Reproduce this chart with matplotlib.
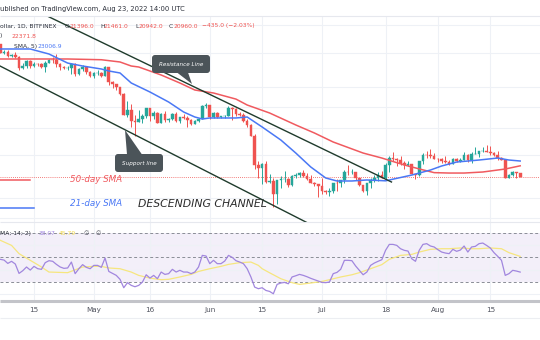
import numpy as np
import pandas as pd
import matplotlib
matplotlib.use("Agg")
import matplotlib.pyplot as plt
from matplotlib.patches import FancyBboxPatch, Polygon

# BTC/USD daily candles (Bitfinex), 6 Apr - 23 Aug 2022
dates = pd.date_range("2022-04-06", "2022-08-23", freq="D")

opens = [45500, 43200, 43450, 42300, 42780, 42200, 39520, 40100, 41150, 39950,
         40550, 40400, 39700, 40800, 41500, 41370, 40500, 39700, 39450, 39450,
         40430, 38100, 39230, 39740, 38600, 37650, 38480, 38520, 37720, 39690,
         36550, 36020, 35470, 34060, 30100, 31000, 29100, 28950, 29300, 29900,
         31300, 29850, 30430, 28700, 30300, 29200, 29430, 30300, 29100, 29650,
         29530, 29200, 28620, 29030, 29450, 31700, 31800, 29800, 30450, 29700,
         29870, 29900, 31370, 31130, 30200, 30100, 29100, 28400, 26600, 22500,
         22150, 22600, 20400, 20500, 19000, 20550, 20700, 20720, 19980, 21100,
         21230, 21500, 21030, 20730, 20280, 20100, 19940, 19280, 19250, 19300,
         20230, 20190, 20550, 21620, 21600, 21600, 20850, 19960, 19330, 20230,
         20580, 20830, 21200, 20800, 22430, 23400, 23230, 23160, 22680, 22450,
         22580, 21300, 21250, 22950, 23850, 23770, 23650, 23300, 23280, 22980,
         22820, 22620, 23310, 22950, 23170, 23800, 23150, 23950, 23950, 24400,
         24450, 24300, 24100, 23870, 23350, 23200, 20850, 21150, 21520, 21396]
highs = [45500, 43900, 43950, 42800, 43400, 42400, 40700, 41500, 41500, 40850,
         40700, 40600, 41100, 41700, 42200, 42900, 40800, 39950, 39900, 40600,
         40800, 39450, 40350, 39900, 38800, 38650, 39150, 38630, 40000, 39800,
         36650, 36100, 35500, 34250, 32600, 32100, 30100, 30900, 30300, 31400,
         31300, 30750, 30650, 30500, 30700, 29600, 30450, 30650, 29800, 30200,
         29850, 29350, 29200, 29550, 31950, 32250, 31950, 30600, 30650, 29950,
         30150, 31750, 31550, 31300, 30650, 30350, 29450, 28550, 26900, 23000,
         22800, 22950, 21350, 20800, 20550, 21050, 21700, 20850, 21200, 21500,
         21600, 21850, 21500, 21200, 20400, 20150, 20850, 19400, 19650, 20300,
         20700, 20650, 21850, 22500, 21900, 21600, 20870, 20050, 20250, 20850,
         21200, 21550, 21650, 22700, 23750, 24250, 23420, 23750, 22950, 23000,
         22650, 21350, 23050, 24150, 24400, 24650, 24150, 23450, 23450, 23650,
         23200, 23450, 23350, 23400, 24200, 23900, 24200, 24900, 24450, 24900,
         25200, 25050, 24250, 24450, 23600, 23200, 21350, 21700, 21520, 21461]
lows = [43100, 42800, 42150, 42150, 42000, 39200, 39250, 39600, 39600, 39800,
        40000, 39550, 38550, 40600, 40800, 39750, 39200, 39350, 39000, 38200,
        37700, 37900, 38900, 38200, 37600, 37400, 38050, 37500, 37650, 35800,
        35300, 34800, 33700, 30000, 29800, 28100, 26600, 28800, 28700, 29500,
        29100, 29450, 28700, 28700, 28800, 28950, 29250, 28900, 28700, 29300,
        28050, 28300, 28500, 28850, 29350, 31250, 29350, 29600, 29550, 29500,
        29500, 29900, 29250, 29900, 29950, 28900, 28100, 26600, 21950, 20850,
        20100, 20250, 20300, 17600, 17950, 19650, 20350, 19800, 19900, 20800,
        20950, 21000, 20550, 20200, 19900, 18650, 18950, 19000, 18800, 19050,
        19300, 19800, 20250, 21200, 21350, 20650, 19900, 19250, 18900, 19650,
        20400, 20500, 20800, 20750, 21600, 23000, 22400, 22450, 21950, 22300,
        21300, 20750, 21050, 22600, 23450, 23450, 23250, 22850, 22700, 22700,
        22450, 22600, 22900, 22850, 23150, 22900, 22700, 23900, 23600, 24300,
        24200, 23800, 23700, 23200, 23150, 20800, 20850, 21100, 20900, 20942]
closes = [43200, 43450, 42300, 42780, 42200, 39520, 40100, 41150, 39950, 40550,
          40400, 39700, 40800, 41500, 41370, 40500, 39700, 39450, 39450, 40430,
          38100, 39230, 39740, 38600, 37650, 38480, 38520, 37720, 39690, 36550,
          36020, 35470, 34060, 30100, 31000, 29100, 28950, 29300, 29900, 31300,
          29850, 30430, 28700, 30300, 29200, 29430, 30300, 29100, 29650, 29530,
          29200, 28620, 29030, 29450, 31700, 31800, 29800, 30450, 29700, 29870,
          29900, 31370, 31130, 30200, 30100, 29100, 28400, 26600, 22500, 22150,
          22600, 20400, 20500, 19000, 20550, 20700, 20720, 19980, 21100, 21230,
          21500, 21030, 20730, 20280, 20100, 19940, 19280, 19250, 19300, 20230,
          20190, 20550, 21620, 21600, 21600, 20850, 19960, 19330, 20230, 20580,
          20830, 21200, 20800, 22430, 23400, 23230, 23160, 22680, 22450, 22580,
          21300, 21250, 22950, 23850, 23770, 23650, 23300, 23280, 22980, 22820,
          22620, 23310, 22950, 23170, 23800, 23150, 23950, 23950, 24400, 24450,
          24300, 24100, 23870, 23350, 23200, 20850, 21150, 21520, 21395, 20960]

# moving averages
sma21_dates = ["2022-04-06", "2022-04-14", "2022-04-19", "2022-04-24", "2022-04-28",
               "2022-05-03", "2022-05-05", "2022-05-08", "2022-05-11", "2022-05-16",
               "2022-05-21", "2022-05-25", "2022-05-28", "2022-05-30", "2022-06-01",
               "2022-06-08", "2022-06-11", "2022-06-15", "2022-06-20", "2022-06-24",
               "2022-06-28", "2022-07-02", "2022-07-05", "2022-07-09", "2022-07-13",
               "2022-07-18", "2022-07-25", "2022-07-30", "2022-08-02", "2022-08-06",
               "2022-08-12", "2022-08-17", "2022-08-20", "2022-08-23"]
sma21_vals = [44180, 44180, 42910, 40700, 40010, 39320, 38870, 38420, 36240, 34390,
              32440, 30610, 29730, 29390, 29560, 29560, 29730, 28050, 26000, 24100,
              22220, 20840, 20480, 20480, 20600, 20500, 21200, 21830, 22350, 22870,
              23140, 23410, 23140, 23007]
sma50_dates = ["2022-04-06", "2022-04-15", "2022-04-24", "2022-05-03", "2022-05-08",
               "2022-05-11", "2022-05-13", "2022-05-19", "2022-05-24", "2022-05-28",
               "2022-06-02", "2022-06-08", "2022-06-11", "2022-06-17", "2022-06-24",
               "2022-06-29", "2022-07-04", "2022-07-12", "2022-07-17", "2022-07-23",
               "2022-07-28", "2022-07-31", "2022-08-04", "2022-08-08", "2022-08-13",
               "2022-08-19", "2022-08-23"]
sma50_vals = [41680, 41680, 41680, 41500, 40960, 40010, 39780, 37970, 36240, 34790,
              34190, 33000, 31880, 30430, 28380, 27080, 25700, 24100, 23410, 22480,
              21850, 21500, 21450, 21450, 21580, 21960, 22372]

# RSI(14) and its moving average
rsi_vals = [48.4, 47.8, 45.1, 46.8, 44.6, 37.0, 39.2, 42.2, 39.7, 42.7,
            40.8, 40.3, 45.7, 47.3, 46.8, 44.3, 42.2, 41.1, 41.4, 46.2,
            36.8, 40.8, 44.1, 41.9, 40.8, 43.5, 43.5, 41.9, 49.5, 38.6,
            37.0, 35.4, 32.2, 25.4, 29.5, 27.3, 26.2, 27.3, 30.0, 35.9,
            33.2, 35.4, 32.7, 38.1, 36.2, 36.8, 40.3, 38.1, 39.5, 38.1,
            38.1, 36.8, 38.1, 42.2, 51.6, 51.1, 44.9, 47.6, 44.9, 44.9,
            47.0, 51.6, 50.0, 47.3, 46.2, 44.9, 40.8, 34.1, 25.9, 24.6,
            25.4, 23.2, 22.4, 20.5, 28.1, 29.2, 29.7, 28.6, 34.1, 35.1,
            36.2, 35.4, 34.3, 33.0, 31.9, 30.8, 29.7, 29.5, 30.0, 36.8,
            37.8, 40.3, 47.6, 47.6, 47.3, 43.0, 39.5, 35.9, 38.1, 43.5,
            45.4, 46.8, 48.1, 55.7, 60.5, 60.5, 59.7, 57.0, 55.7, 55.1,
            48.9, 46.8, 55.7, 60.5, 61.1, 59.2, 58.4, 56.2, 54.3, 53.5,
            53.0, 56.5, 54.9, 55.9, 59.2, 54.3, 58.4, 58.9, 61.1, 61.6,
            59.7, 57.6, 53.8, 50.8, 47.6, 35.4, 36.8, 39.5, 38.9, 38.07]
rsi_ma_idx = [0, 3, 5, 8, 11, 13, 18, 22, 25, 27, 29, 32, 35, 37, 40, 43, 45, 48,
              51, 53, 56, 59, 61, 64, 67, 69, 70, 72, 75, 78, 80, 83, 86, 88, 91,
              94, 96, 99, 102, 104, 107, 110, 112, 115, 118, 120, 123, 126, 128,
              131, 134, 136, 139]
rsi_ma_vals = [63.8, 59.7, 53.0, 47.6, 42.2, 38.1, 37.6, 42.2, 42.7, 42.7, 41.4,
               40.8, 38.1, 35.4, 33.2, 31.9, 32.2, 34.1, 36.2, 38.6, 40.8, 42.7,
               44.3, 45.7, 46.2, 43.5, 40.8, 37.5, 32.7, 29.5, 28.1, 29.2, 30.5,
               31.9, 34.1, 35.9, 37.6, 40.8, 44.1, 48.4, 51.6, 52.4, 54.3, 56.5,
               57.0, 57.0, 57.6, 57.0, 57.0, 57.6, 57.0, 53.8, 50.8]

tick_dates = ["2022-04-15", "2022-05-01", "2022-05-16", "2022-06-01", "2022-06-15",
              "2022-07-01", "2022-07-18", "2022-08-01", "2022-08-15"]
tick_labels = ["15", "May", "16", "Jun", "15", "Jul", "18", "Aug", "15"]
grid_prices = [16480, 18570, 23800, 27900, 31500, 35400, 43100, 50800]

UP = "#26a69a"
DOWN = "#ef5350"
GRID = "#eef1f6"
CHAN = "#1f3b2c"

fig = plt.figure(figsize=(5.4, 3.4), dpi=100)
fig.patch.set_facecolor("white")

ax = fig.add_axes([0, 1 - 222 / 340, 1, 206 / 340])
ax2 = fig.add_axes([0, 1 - 300 / 340, 1, 78 / 340], sharex=ax)

x = pd.to_datetime(dates)
xn = matplotlib.dates.date2num(x)
x0 = matplotlib.dates.date2num(pd.Timestamp("2022-04-06")) - 0.09
ax.set_xlim(x0, x0 + 540 / 3.74)

# ---- price panel ----
ax.set_yscale("log")
ax.set_ylim(16128, 53540)
o = np.array(opens, float)
c = np.array(closes, float)
h = np.array(highs, float)
l = np.array(lows, float)
up = c >= o
cols = np.where(up, UP, DOWN)
ax.vlines(xn, l, h, colors=cols, linewidth=0.7, zorder=3)
ax.bar(xn, np.maximum(np.abs(c - o), 1), bottom=np.minimum(o, c), width=0.7,
       color=cols, edgecolor=cols, linewidth=0.3, zorder=4)

ax.plot(matplotlib.dates.date2num(pd.to_datetime(sma50_dates)), sma50_vals,
        color="#f05a5f", lw=1.1, zorder=5)
ax.plot(matplotlib.dates.date2num(pd.to_datetime(sma21_dates)), sma21_vals,
        color="#4a78f5", lw=1.1, zorder=5)

# descending channel
up_line_x = matplotlib.dates.date2num(pd.to_datetime(["2022-04-17 10:00", "2022-07-19 14:00"]))
ax.plot(up_line_x, [54170, 20360], color=CHAN, lw=1.0, zorder=6)
lo_line_x = matplotlib.dates.date2num(pd.to_datetime(["2022-04-05 22:00", "2022-06-27 19:00"]))
ax.plot(lo_line_x, [40010, 15930], color=CHAN, lw=1.0, zorder=6)

ax.axhline(closes[-1], color=DOWN, lw=0.6, ls=(0, (1, 1.5)), zorder=2)

ax.set_yticks(grid_prices)
ax.set_xticks(matplotlib.dates.date2num(pd.to_datetime(tick_dates)))
ax.minorticks_off()
ax.grid(True, color=GRID, lw=0.8, zorder=0)
ax.tick_params(left=False, bottom=False, labelleft=False, labelbottom=False)
for s in ax.spines.values():
    s.set_visible(False)

# ---- RSI panel ----
ax2.set_ylim(15.45, 78.65)
ax2.axhspan(30, 70, color="#7e57c2", alpha=0.09, lw=0, zorder=1)
for lvl in (30, 50, 70):
    ax2.axhline(lvl, color="#8a8d96", lw=0.7, ls=(0, (3, 2.5)), zorder=2)
ax2.plot(xn, rsi_vals, color="#a186de", lw=0.9, zorder=4)
ax2.plot(xn[rsi_ma_idx], rsi_ma_vals, color="#f6e67e", lw=0.9, zorder=3)
ax2.set_yticks([20, 40, 60])
ax2.grid(True, color=GRID, lw=0.8, zorder=0)
ax2.set_xticks(matplotlib.dates.date2num(pd.to_datetime(tick_dates)))
ax2.set_xticklabels(tick_labels, fontsize=5.2, color="#50535e")
ax2.tick_params(left=False, bottom=False, labelleft=False, pad=1.5)
for s in ax2.spines.values():
    s.set_visible(False)

# ---- overlay in pixel coordinates ----
ov = fig.add_axes([0, 0, 1, 1], zorder=10)
ov.set_xlim(0, 540)
ov.set_ylim(340, 0)
ov.axis("off")
ov.patch.set_alpha(0)

ov.hlines([16, 222], 0, 540, color="#e6e8ee", lw=0.8)
ov.hlines(300.5, 0, 540, color="#c3c4c9", lw=2.2)
ov.hlines(318, 0, 540, color="#eceef2", lw=0.8)

ov.text(0, 8.5, "ublished on TradingView.com, Aug 23, 2022 14:00 UTC",
        fontsize=4.9, color="#2a2e39", va="center", ha="left")

hdr = dict(fontsize=4.3, va="center", ha="left")
ov.text(0, 26, "ollar, 1D, BITFINEX", color="#2a2e39", **hdr)
for xl, xv, lab, val in [(65, 69.5, "O", "21396.0"), (100, 104, "H", "21461.0"),
                         (135, 138.5, "L", "20942.0"), (169, 173.5, "C", "20960.0")]:
    ov.text(xl, 26, lab, color="#2a2e39", **hdr)
    ov.text(xv, 26, val, color=DOWN, **hdr)
ov.text(202, 26, "\u2212435.0 (\u22122.03%)", color=DOWN, **hdr)
ov.text(0, 36, ")", color="#2a2e39", **hdr)
ov.text(12, 36, "22371.8", color=DOWN, **hdr)
ov.text(14, 46.5, "SMA, 5)", color="#2a2e39", **hdr)
ov.text(37, 46.5, "23006.9", color="#4a78f5", **hdr)

ov.text(0, 233.5, "MA; 14; 2)", color="#2a2e39", **hdr)
ov.text(39, 233.5, "38.07", color="#a186de", **hdr)
ov.text(59, 233.5, "45.79", color="#f0d84a", **hdr)
ov.text(83, 233.5, "\u2205", color="#50535e", **hdr)
ov.text(96, 233.5, "\u2205", color="#50535e", **hdr)

# legend marks drawn on the chart
ov.plot([0, 30], [180, 180], color="#f05a5f", lw=1.1)
ov.plot([0, 34], [207.5, 207.5], color="#4a78f5", lw=1.1)
ov.text(70, 180, "50-day SMA", fontsize=6.3, style="italic", color="#f05a5f",
        va="center", ha="left")
ov.text(70, 204, "21-day SMA", fontsize=6.3, style="italic", color="#4a78f5",
        va="center", ha="left")
ov.text(138, 204, "DESCENDING CHANNEL", fontsize=7.8, style="italic",
        color="#2b2b2b", va="center", ha="left")

# callouts
BOX = "#4b5459"
ov.add_patch(FancyBboxPatch((152, 55), 58, 18, boxstyle="round,pad=0,rounding_size=3",
                            fc=BOX, ec="none"))
ov.add_patch(Polygon([(177, 72.5), (188, 72.5), (192, 84)], closed=True, fc=BOX, ec="none"))
ov.text(181, 64, "Resistance Line", fontsize=4.1, style="italic", color="white",
        ha="center", va="center")
ov.add_patch(FancyBboxPatch((115, 154), 48, 18, boxstyle="round,pad=0,rounding_size=3",
                            fc=BOX, ec="none"))
ov.add_patch(Polygon([(127, 154.5), (142, 154.5), (125, 130)], closed=True, fc=BOX, ec="none"))
ov.text(139, 163, "Support line", fontsize=4.1, style="italic", color="white",
        ha="center", va="center")

fig.savefig("out.png", dpi=100)
